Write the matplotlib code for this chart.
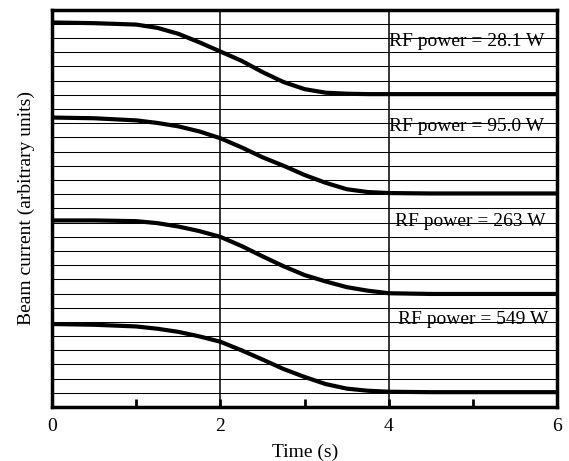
import numpy as np
import matplotlib
matplotlib.use("Agg")
import matplotlib.pyplot as plt

plt.rcParams['font.family'] = ['Liberation Serif', 'DejaVu Serif']

# values (y in grid units, 0..28)
t = [0, 0.5, 1.0, 1.25, 1.5, 1.75, 2.0, 2.25, 2.5, 2.75, 3.0, 3.25, 3.5, 3.75,
     4.0, 4.5, 5.0, 5.5, 6.0]
beam_28 = [27.1, 27.05, 26.95, 26.72, 26.3, 25.7, 25.05, 24.4, 23.6, 22.9, 22.4,
           22.15, 22.08, 22.05, 22.05, 22.05, 22.05, 22.05, 22.05]
beam_95 = [20.4, 20.35, 20.2, 20.02, 19.78, 19.42, 18.94, 18.3, 17.6, 17.0, 16.35,
           15.8, 15.35, 15.15, 15.08, 15.05, 15.05, 15.05, 15.05]
beam_263 = [13.15, 13.15, 13.1, 12.96, 12.72, 12.4, 11.99, 11.35, 10.62, 9.92, 9.3,
            8.85, 8.45, 8.2, 8.02, 7.97, 7.97, 7.97, 7.97]
beam_549 = [5.85, 5.8, 5.68, 5.52, 5.3, 4.98, 4.6, 4.0, 3.35, 2.68, 2.12,
            1.62, 1.3, 1.15, 1.08, 1.05, 1.05, 1.05, 1.05]
traces = [beam_28, beam_95, beam_263, beam_549]
labels = ["RF power = 28.1 W", "RF power = 95.0 W", "RF power = 263 W", "RF power = 549 W"]
label_pos = [(4.92, 25.75), (4.92, 19.8), (4.97, 13.05), (5.0, 6.15)]

fig = plt.figure(figsize=(5.69, 4.61), dpi=100)
ax = fig.add_axes([0.0914, 0.117, 0.888, 0.862])

# grid
for yy in range(1, 28):
    ax.axhline(yy, color='black', lw=0.75, zorder=1)
for xx in [2, 4]:
    ax.axvline(xx, color='black', lw=1.1, zorder=1)

for y in traces:
    ax.plot(t, y, color='black', lw=3.0, solid_joinstyle='round', zorder=3)

for lab, (x, y) in zip(labels, label_pos):
    ax.text(x, y, lab, fontsize=14, ha='center', va='center', zorder=4)

ax.set_xlim(0, 6)
ax.set_ylim(0, 28)
ax.set_xticks([0, 2, 4, 6])
ax.set_xticks([1, 3, 5], minor=True)
ax.set_yticks([])
ax.tick_params(axis='x', which='both', direction='in', length=6, width=2, labelsize=14, pad=8)
for s in ax.spines.values():
    s.set_linewidth(2.5)
ax.set_xlabel("Time (s)", fontsize=14, labelpad=6)
ax.set_ylabel("Beam current (arbitrary units)", fontsize=14, labelpad=12)

fig.savefig("out.png", dpi=100)
